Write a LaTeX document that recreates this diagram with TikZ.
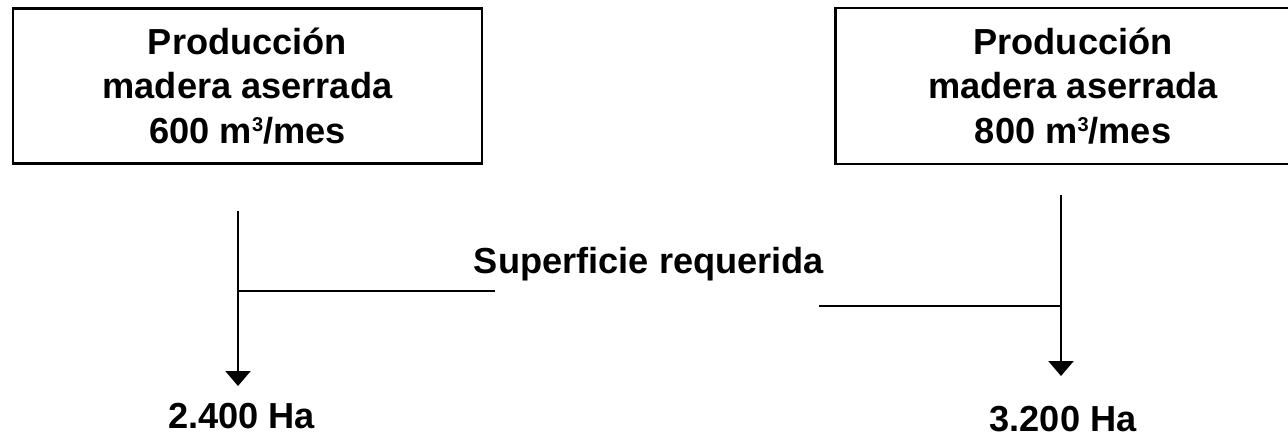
\documentclass[tikz,border=0pt]{standalone}
\usepackage{fontspec}
\setmainfont{Liberation Sans}
\usetikzlibrary{arrows.meta}
\newcommand{\cubo}{\raisebox{5.8pt}{\fontsize{10}{12}\selectfont\bfseries 3}}
\begin{document}
\begin{tikzpicture}[x=0.5pt,y=-0.5pt,
  txt/.style={font=\bfseries\fontsize{18.1}{22.25}\selectfont, inner sep=0pt},
  box/.style={txt, minimum height=77.5pt, align=center},
  boxline/.style={line width=1.2pt},
  conn/.style={line width=1.2pt},
  arr/.style={conn, -{Triangle[width=12.5pt,length=7.5pt]}}]
\useasboundingbox (0,0) rectangle (1288,436);
\clip (0,0) rectangle (1288,436);
\node[box, draw, boxline, minimum width=234.5pt] (b1) at (247.5,86) {Producción\\madera aserrada\\600 m\cubo/mes};
\node[box, minimum width=237pt] (b2) at (1073,86) {Producción\\madera aserrada\\800 m\cubo/mes};
\draw[boxline] ([xshift=20pt]b2.north east) -- (b2.north west) -- (b2.south west) -- ([xshift=20pt]b2.south east);
\node[txt, anchor=base] (sup) at (649,273) {Superficie requerida};
\node[txt, anchor=base] (r1) at (241.5,428) {2.400 Ha};
\node[txt, anchor=base] (r2) at (1063,431) {3.200 Ha};
\coordinate (a1) at (238,211);
\coordinate (e1) at (238,386);
\coordinate (j1) at (238,291);
\coordinate (h1) at (495,291);
\coordinate (a2) at (1061,195);
\coordinate (e2) at (1061,376);
\coordinate (j2) at (1061,306);
\coordinate (h2) at (819,306);
\draw[arr] (a1) -- (e1);
\draw[conn] (j1) -- (h1);
\draw[arr] (a2) -- (e2);
\draw[conn] (h2) -- (j2);
\end{tikzpicture}
\end{document}
